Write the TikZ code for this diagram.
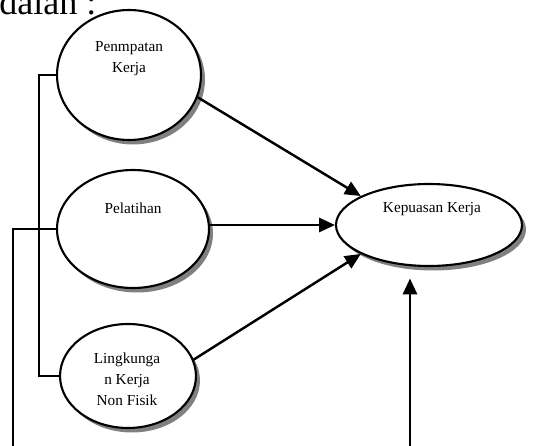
\documentclass[tikz,border=0pt]{standalone}
\usepackage{fontspec}
\setmainfont{Liberation Serif}
\usetikzlibrary{shapes.geometric,shadows,arrows.meta}

\tikzset{
  var/.style={ellipse, draw, line width=1.2pt, fill=white, inner sep=0pt,
    drop shadow={shadow xshift=0.08cm, shadow yshift=-0.09cm, fill=black!50, opacity=1}},
  vartxt/.style={align=center, font=\fontsize{8.7}{11.9}\selectfont},
  arr/.style={line width=1.4pt, -{Triangle[length=9pt,width=8pt]}},
  link/.style={line width=1pt}
}

\begin{document}
\begin{tikzpicture}[x=0.02cm, y=-0.02cm]
        \useasboundingbox (0,0) rectangle (549,446);

        % Text above the figure
        \node[anchor=base west, inner sep=0pt, font=\fontsize{20.5}{24}\selectfont] (intro) at (-1,15) {dalah :};

        % Draw the variables
        \node[var, minimum width=2.88cm, minimum height=2.6cm] (pen) at (129,75) {};
        \node[var, minimum width=3.04cm, minimum height=2.36cm] (pel) at (133,229) {};
        \node[var, minimum width=2.72cm, minimum height=2.08cm] (ling) at (128,376) {};
        \node[var, minimum width=3.72cm, minimum height=1.64cm] (kep) at (429,225) {};

        % Labels sit in the upper part of each ellipse
        \node[vartxt] (penTxt) at (129,59) {Penmpatan\\Kerja};
        \node[vartxt] (pelTxt) at (133,208) {Pelatihan};
        \node[vartxt] (lingTxt) at (127,379) {Lingkunga\\n Kerja\\Non Fisik};
        \node[vartxt] (kepTxt) at (432,209) {Kepuasan Kerja};

        % Arrows into Kepuasan Kerja
        \draw[arr] (pen.-18) -- (kep.157);
        \draw[arr] (pel.east |- kep.west) -- (kep.west);
        \draw[arr] (ling.14) -- (kep.203);

        % Lines leaving the bottom edge
        \coordinate (bx) at (39,0);
        \coordinate (lx) at (13,446);
        \coordinate (kbot) at (410,446);
        \draw[link] (pen.west) -- (pen.west -| bx) -- (ling.west -| bx) -- (ling.west);
        \draw[link] (pel.west) -- (pel.west -| lx) -- (lx);
        \draw[arr, shorten >=6.5pt] (kbot) -- (kbot |- kep.south);

    \end{tikzpicture}
\end{document}
